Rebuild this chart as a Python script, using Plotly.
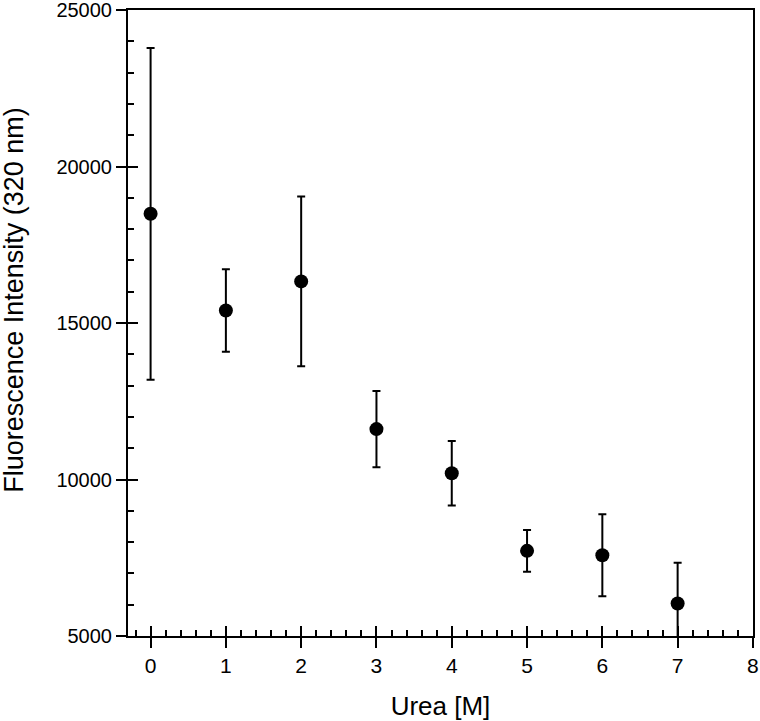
import plotly.graph_objects as go

# Urea denaturation series
urea_m = [0, 1, 2, 3, 4, 5, 6, 7]
intensity = [18490, 15400, 16330, 11610, 10200, 7720, 7580, 6040]
intensity_err = [5300, 1320, 2710, 1220, 1030, 670, 1310, 1300]

FONT = "Liberation Sans, Arial, sans-serif"

fig = go.Figure()
fig.add_trace(go.Scatter(
    x=urea_m,
    y=intensity,
    mode="markers",
    marker=dict(color="black", size=14),
    error_y=dict(type="data", array=intensity_err, color="black",
                 thickness=2, width=4),
    showlegend=False,
))
# dummy trace so the overlay axes (inside ticks) get drawn
fig.add_trace(go.Scatter(x=[None], y=[None], xaxis="x2", yaxis="y2",
                         showlegend=False, hoverinfo="skip"))

axis_common = dict(
    showgrid=False, zeroline=False, automargin=False,
    linecolor="black", linewidth=2,
    tickcolor="black", tickwidth=2,
    ticklabeloverflow="allow",
)

fig.update_layout(
    width=760, height=721,
    plot_bgcolor="white", paper_bgcolor="white",
    margin=dict(l=128, r=7, t=10, b=85),
    xaxis=dict(
        **axis_common,
        range=[-0.3, 8.001], dtick=1, tick0=0,
        ticks="outside", ticklen=10, mirror=True,
        tickfont=dict(family=FONT, size=21, color="black"),
        title=dict(text="Urea [M]", font=dict(family=FONT, size=26, color="black"),
                   standoff=21),
    ),
    yaxis=dict(
        **axis_common,
        range=[5000, 25001], dtick=5000, tick0=5000, tickformat="d",
        ticks="outside", ticklen=10, mirror=True,
        tickfont=dict(family=FONT, size=20, color="black"),
    ),
    xaxis2=dict(
        overlaying="x", anchor="y", side="bottom",
        range=[-0.3, 8.001], dtick=1, tick0=0,
        showgrid=False, zeroline=False, showline=False,
        showticklabels=False, ticks="inside", ticklen=10,
        tickwidth=2, tickcolor="black",
        minor=dict(dtick=0.2, tick0=0, ticks="inside", ticklen=6,
                   tickwidth=1.5, tickcolor="black", showgrid=False),
    ),
    yaxis2=dict(
        overlaying="y", anchor="x", side="left",
        range=[5000, 25001], dtick=5000, tick0=5000,
        showgrid=False, zeroline=False, showline=False,
        showticklabels=False, ticks="inside", ticklen=10,
        tickwidth=2, tickcolor="black",
        minor=dict(dtick=1000, tick0=5000, ticks="inside", ticklen=6,
                   tickwidth=1.5, tickcolor="black", showgrid=False),
    ),
)

# y title sits a little above the plot centre in the original
fig.add_annotation(
    text="Fluorescence Intensity (320 nm)",
    textangle=-90, showarrow=False,
    xref="paper", yref="paper", x=0, y=0.537,
    xanchor="center", yanchor="middle", xshift=-114,
    font=dict(family=FONT, size=27, color="black"),
)

# drop the default body margin so the figure sits at the page corner
fig.write_html("out.html", config={"displayModeBar": False},
               post_script="document.body.style.margin='0';")
